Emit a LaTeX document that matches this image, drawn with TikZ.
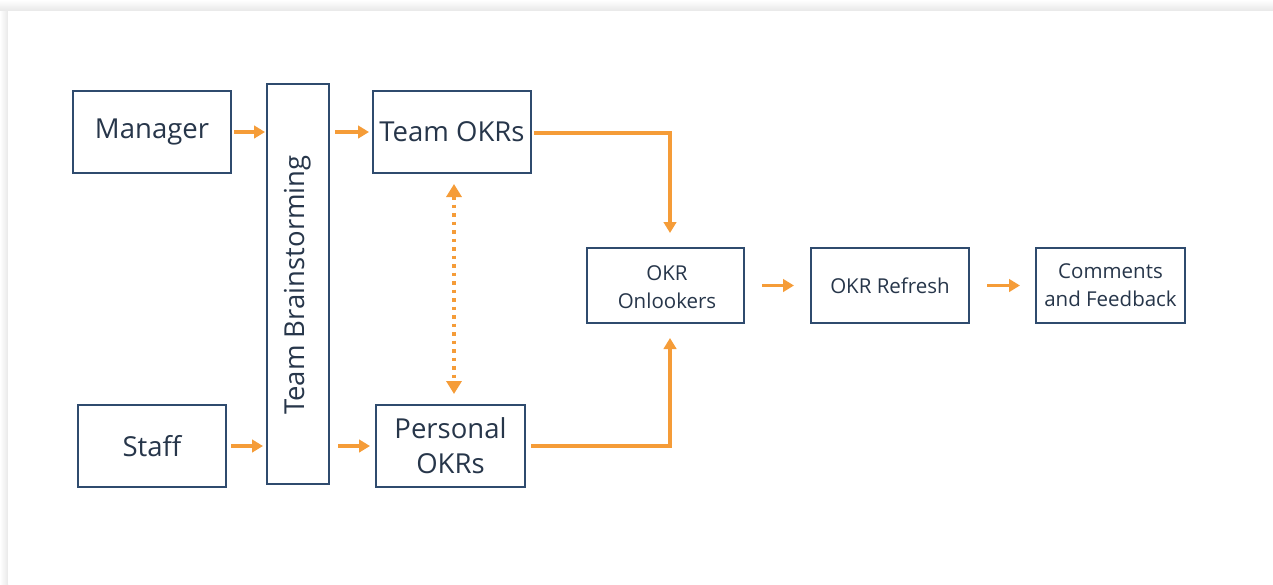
\documentclass[tikz,border=0pt]{standalone}
\usepackage{fontspec}
\setmainfont{Open Sans}
\usetikzlibrary{arrows.meta,calc}
\definecolor{boxblue}{HTML}{2F4B6E}
\definecolor{txt}{HTML}{27364A}
\definecolor{flow}{HTML}{F59C38}
\tikzset{
  box/.style={draw=boxblue, line width=2pt, fill=white, text=txt, align=center,
              inner sep=0pt, font=\fontsize{27.5}{35}\selectfont},
  smallbox/.style={box, font=\fontsize{20.5}{28}\selectfont},
  arr/.style={draw=flow, line width=3.2pt, -{Triangle[length=11pt,width=12.5pt]}},
  dotarr/.style={draw=flow, line width=3.5pt, dash pattern=on 3.5pt off 5pt,
                 {Triangle[length=13pt,width=15pt]}-{Triangle[length=13pt,width=15pt]}}
}
\begin{document}
\begin{tikzpicture}[x=1pt,y=-1pt]
  \useasboundingbox (0,0) rectangle (1273,584);
  % page card with a soft shadow at its top and left edges
  \fill[white] (0,0) rectangle (1273,584);
  \shade[top color=white, bottom color=black!9] (0,0) rectangle (1273,11);
  \shade[left color=white, right color=black!9] (0,11) rectangle (8,584);
  \fill[white] (8,11) rectangle (1273,584);

  % boxes
  \node[box, minimum width=158pt, minimum height=82pt] (mgr) at (152,132) {Manager};
  \node[box, minimum width=148pt, minimum height=82pt] (stf) at (152,446) {Staff};
  \node[box, minimum width=62pt, minimum height=400pt] (bs) at (298,284) {};
  \node[text=txt, font=\fontsize{27.5}{35}\selectfont, rotate=90] (bst) at (298,285) {Team Brainstorming};
  \node[box, minimum width=158pt, minimum height=82pt] (tokr) at (452,132) {Team OKRs};
  \node[box, minimum width=149pt, minimum height=82pt] (pokr) at (450.5,446) {Personal\\OKRs};
  \node[smallbox, minimum width=157pt, minimum height=75pt] (onl) at (665.5,285.5) {};
  \node[text=txt, align=center, font=\fontsize{20.5}{28}\selectfont] (onlt) at (667,287.5) {OKR\\Onlookers};
  \node[smallbox, minimum width=158pt, minimum height=75pt] (ref) at (890,285.5) {OKR Refresh};
  \node[smallbox, minimum width=149pt, minimum height=75pt] (cmt) at (1110.5,285.5) {Comments\\and Feedback};

  % connectors
  \draw[arr, shorten <=2pt, shorten >=1pt] (mgr.east) -- (bs.west |- mgr.east);
  \draw[arr, shorten <=5pt, shorten >=3pt] (bs.east |- tokr.west) -- (tokr.west);
  \draw[arr, shorten <=4pt, shorten >=3pt] (stf.east) -- (bs.west |- stf.east);
  \draw[arr, shorten <=8pt, shorten >=5pt] (bs.east |- pokr.west) -- (pokr.west);
  \draw[dotarr, shorten <=10pt, shorten >=10pt] (tokr.south -| 454,0) -- (pokr.north -| 454,0);
  \draw[arr, shorten <=2pt, shorten >=14pt] ([yshift=-1pt]tokr.east) -| ([xshift=4.5pt]onl.north);
  \draw[arr, shorten <=5pt, shorten >=14pt] (pokr.east) -| ([xshift=4.5pt]onl.south);
  \draw[arr, shorten <=17pt, shorten >=16pt] (onl.east) -- (ref.west);
  \draw[arr, shorten <=17pt, shorten >=15pt] (ref.east) -- (cmt.west);
\end{tikzpicture}
\end{document}
